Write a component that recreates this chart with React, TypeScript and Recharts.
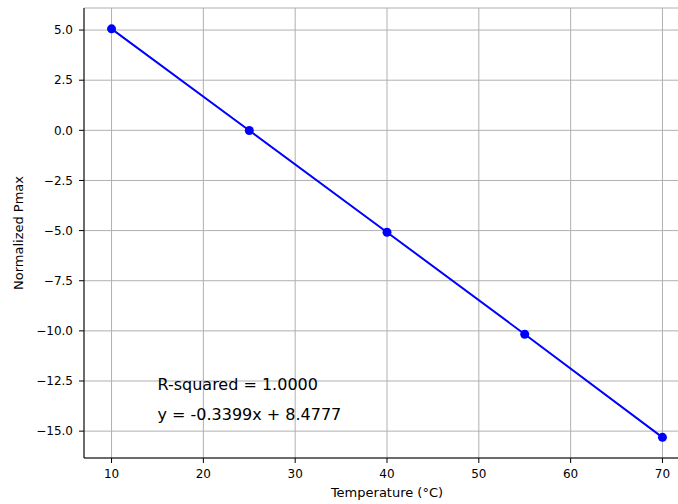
import React from "react";
import {
  LineChart,
  Line,
  XAxis,
  YAxis,
  CartesianGrid,
  ReferenceDot,
} from "recharts";

const temperatures = [10, 25, 40, 55, 70];
const pmax = [5.06, -0.01, -5.08, -10.17, -15.31];
const xTicks = [10, 20, 30, 40, 50, 60, 70];
const yTicks = [5, 2.5, 0, -2.5, -5, -7.5, -10, -12.5, -15];
const notes = [
  { x: 15, y: -12.67, text: "R-squared = 1.0000" },
  { x: 15, y: -14.16, text: "y = -0.3399x + 8.4777" },
];

const data = temperatures.map((t, i) => ({ t, v: pmax[i] }));

const font = "'DejaVu Sans', sans-serif";
const fmtY = (v: number) => (v < 0 ? "\u2212" + Math.abs(v).toFixed(1) : v.toFixed(1));

export default function App() {
  return (
    <div
      style={{
        position: "fixed",
        left: 0,
        top: 0,
        width: 678,
        height: 504,
        overflow: "hidden",
        background: "#fff",
        fontFamily: font,
      }}
    >
      <LineChart
        width={700}
        height={504}
        data={data}
        margin={{ top: 8, right: 10, left: 0, bottom: 0 }}
      >
        <CartesianGrid stroke="#b0b0b0" strokeWidth={1} />
        <XAxis
          dataKey="t"
          type="number"
          domain={[7, 73]}
          ticks={xTicks}
          allowDataOverflow
          height={46}
          tickSize={5}
          tickMargin={6}
          stroke="#000"
          tick={{ fill: "#000", fontSize: 12, fontFamily: font }}
          label={{
            value: "Temperature (°C)",
            position: "insideBottom",
            offset: 7,
            fill: "#000",
            fontSize: 13,
            fontFamily: font,
          }}
        />
        <XAxis
          xAxisId="top"
          dataKey="t"
          type="number"
          domain={[7, 73]}
          orientation="top"
          height={0}
          tick={false}
          tickLine={false}
          stroke="#000"
        />
        <YAxis
          type="number"
          domain={[-16.34, 6.1]}
          ticks={yTicks}
          allowDataOverflow
          width={84}
          tickSize={5}
          tickMargin={6}
          stroke="#000"
          tickFormatter={fmtY}
          tick={{ fill: "#000", fontSize: 12, fontFamily: font }}
          label={{
            value: "Normalized Pmax",
            angle: -90,
            position: "insideLeft",
            offset: 18,
            fill: "#000",
            fontSize: 13,
            fontFamily: font,
            style: { textAnchor: "middle" },
          }}
        />
        <Line
          dataKey="v"
          stroke="#0000ff"
          strokeWidth={2}
          dot={{ r: 4.5, fill: "#0000ff", stroke: "#0000ff", strokeWidth: 0 }}
          isAnimationActive={false}
        />
        {notes.map((n) => (
          <ReferenceDot
            key={n.text}
            x={n.x}
            y={n.y}
            r={0}
            fill="none"
            stroke="none"
            label={{
              value: n.text,
              position: "right",
              offset: 0,
              fill: "#000",
              fontSize: 16,
              fontFamily: font,
            }}
          />
        ))}
      </LineChart>
    </div>
  );
}
